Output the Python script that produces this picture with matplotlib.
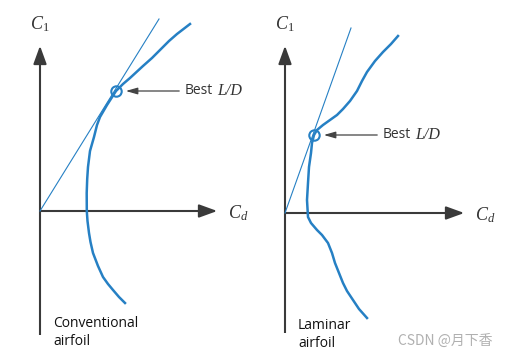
import numpy as np
import matplotlib
matplotlib.use("Agg")
import matplotlib.pyplot as plt

plt.rcParams['mathtext.fontset'] = 'custom'
plt.rcParams['mathtext.it'] = 'Liberation Serif:italic'
plt.rcParams['mathtext.rm'] = 'Liberation Serif'

# curve points, (Cd, Cl) relative to the axis origin of each panel
conv_cd = [0.85, 0.79, 0.73, 0.68, 0.63, 0.58, 0.53, 0.505, 0.49, 0.475, 0.468, 0.467, 0.472, 0.48, 0.50, 0.54, 0.57,
           0.60, 0.67, 0.76, 0.83, 0.90, 1.03, 1.12, 1.20, 1.29, 1.37, 1.50]
conv_cl = [-0.92, -0.86, -0.79, -0.73, -0.66, -0.55, -0.42, -0.31, -0.22, -0.10, 0.00, 0.18, 0.32, 0.44, 0.60, 0.74, 0.86,
           0.94, 1.06, 1.20, 1.27, 1.33, 1.45, 1.53, 1.61, 1.70, 1.77, 1.87]

lam_cd = [0.82, 0.74, 0.68, 0.62, 0.58, 0.54, 0.50, 0.47, 0.43, 0.37, 0.32, 0.26, 0.23, 0.22, 0.23, 0.24, 0.26, 0.27, 0.29,
          0.32, 0.38, 0.45, 0.52, 0.58, 0.65, 0.72, 0.77, 0.82, 0.90, 0.98, 1.06, 1.13]
lam_cl = [-1.05, -0.96, -0.87, -0.78, -0.70, -0.60, -0.50, -0.40, -0.30, -0.22, -0.17, -0.10, -0.04, 0.13, 0.30, 0.46, 0.60, 0.70, 0.78,
          0.83, 0.88, 0.93, 0.98, 1.04, 1.12, 1.22, 1.32, 1.41, 1.52, 1.61, 1.69, 1.77]

conv_tangent = [(0.0, 0.0), (1.19, 1.92)]
lam_tangent = [(0.0, 0.0), (0.66, 1.85)]
conv_best = (0.76, 1.20)
lam_best = (0.29, 0.78)

BLUE = '#2680c4'
AXC = '#3a3a3a'

fig = plt.figure(figsize=(5.07, 3.57), dpi=100)
fig.patch.set_facecolor('white')

def panel(rect, xlim, ylim, cd, cl, tangent, best, yaxis, xaxis_end, label):
    ax = fig.add_axes(rect)
    ax.set_xlim(*xlim)
    ax.set_ylim(*ylim)
    ax.axis('off')
    # axes with arrows
    ax.plot([0, 0], [yaxis[0], yaxis[1] - 0.1], color=AXC, lw=1.5, solid_capstyle='butt')
    ax.plot([0, xaxis_end - 0.1], [0, 0], color=AXC, lw=1.5, solid_capstyle='butt')
    ax.annotate('', xy=(0, yaxis[1]), xytext=(0, yaxis[1] - 0.2),
                arrowprops=dict(arrowstyle='-|>,head_length=1.1,head_width=0.4', color=AXC, lw=1.5))
    ax.annotate('', xy=(xaxis_end, 0), xytext=(xaxis_end - 0.2, 0),
                arrowprops=dict(arrowstyle='-|>,head_length=1.1,head_width=0.4', color=AXC, lw=1.5))
    ax.text(0.0, yaxis[1] + 0.09, r'$C_1$', fontsize=13, ha='center', va='bottom', color='#333333')
    ax.text(xaxis_end + 0.08, -0.02, r'$C_d$', fontsize=13, ha='left', va='center', color='#333333')
    # tangent line and polar curve
    tx, ty = zip(*tangent)
    ax.plot(tx, ty, color=BLUE, lw=0.8)
    ax.plot(cd, cl, color=BLUE, lw=1.8, solid_joinstyle='round')
    ax.plot(*best, 'o', ms=7.5, mfc='none', mec=BLUE, mew=1.5)
    ax.annotate('', xy=(best[0] + 0.07, best[1]), xytext=(best[0] + 0.66, best[1]),
                arrowprops=dict(arrowstyle='-|>,head_length=0.7,head_width=0.2', color='#444444', lw=0.9))
    t = ax.text(best[0] + 0.69, best[1], 'Best', fontsize=10, ha='left', va='center',
                color='#333333', family='Open Sans')
    ax.annotate('L/D', xy=(1, 0.5), xycoords=t, xytext=(3, 0), textcoords='offset points',
                fontsize=11.5, ha='left', va='center', color='#333333',
                family='Liberation Serif', style='italic')
    ax.text(0.13, -1.05, label, fontsize=10, ha='left', va='top', color='#111111',
            family='Open Sans', linespacing=1.3)
    return ax

panel([0, 0, 253 / 507, 1], (-0.40, 2.13), (-1.46, 2.11), conv_cd, conv_cl,
      conv_tangent, conv_best, (-1.24, 1.68), 1.80, 'Conventional\nairfoil')
panel([253 / 507, 0, 254 / 507, 1], (-0.32, 2.22), (-1.44, 2.13), lam_cd, lam_cl,
      lam_tangent, lam_best, (-1.20, 1.70), 1.82, 'Laminar\nairfoil')

fig.text(493 / 507, 1 - 341 / 357, 'CSDN @月下香', fontsize=10, ha='right', va='center',
         color='#b0b0b0', family=['Noto Sans CJK SC', 'DejaVu Sans'])

fig.savefig('out.png', dpi=100)
